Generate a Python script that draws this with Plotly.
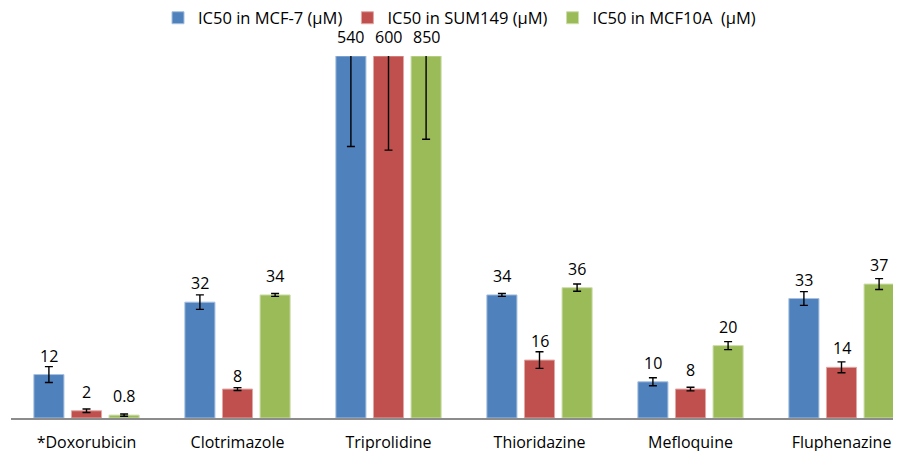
import plotly.graph_objects as go

categories = ["*Doxorubicin", "Clotrimazole", "Triprolidine", "Thioridazine", "Mefloquine", "Fluphenazine"]
series_names = ["IC50 in MCF-7 (µM)", "IC50 in SUM149 (µM)", "IC50 in MCF10A\u00a0 (µM)"]

mcf7 = [12, 32, 540, 34, 10, 33]
sum149 = [2, 8, 600, 16, 8, 14]
mcf10a = [0.8, 34, 850, 36, 20, 37]

mcf7_err = [2.2, 2.0, 25, 0.4, 1.1, 1.9]
sum149_err = [0.5, 0.4, 26, 2.3, 0.5, 1.5]
mcf10a_err = [0.3, 0.4, 23, 1.0, 1.1, 1.5]

colors = ["#4F81BD", "#C0504D", "#9BBB59"]
edge_colors = ["#A7C0DE", "#E0A8A6", "#CDDDAC"]

Y_MAX = 100  # visible axis top; taller bars are cut off here
FONT = "Open Sans"
BARGAP = 0.253
BARGROUPGAP = 0.2

# the page body adds an 8px offset; compensate so the visible area matches
OFF = 8
W, H = 901, 451

series = [mcf7, sum149, mcf10a]
errors = [mcf7_err, sum149_err, mcf10a_err]

fig = go.Figure()
for j, (name, vals, errs) in enumerate(zip(series_names, series, errors)):
    shown = [min(v, Y_MAX) for v in vals]
    fig.add_trace(go.Bar(
        name=name,
        x=categories,
        y=shown,
        marker=dict(color=colors[j], line=dict(color=edge_colors[j], width=1)),
        error_y=dict(type="data", array=errs, visible=True, color="black",
                     thickness=1.4, width=4),
    ))

slot = (1 - BARGAP) / 3
annotations = []
for j, vals in enumerate(series):
    for i, v in enumerate(vals):
        shift = 6
        if j == 1 and i == 1:
            shift = 0
        annotations.append(dict(
            x=i + (j - 1) * slot, y=min(v, Y_MAX), xref="x", yref="y",
            text=f"{v:g}", showarrow=False, yanchor="bottom", yshift=shift,
            font=dict(family=FONT, size=16, color="black"),
        ))

plot_left, plot_right, plot_top, plot_bottom = 11, 901, 56, 418
cat_px = 151
x_end = -0.5 + (plot_right - plot_left) / cat_px

fig.update_layout(
    width=W, height=H,
    margin=dict(l=plot_left - OFF, r=W - (plot_right - OFF), t=plot_top - OFF,
                b=H - (plot_bottom - OFF)),
    paper_bgcolor="white", plot_bgcolor="white",
    barmode="group", bargap=BARGAP, bargroupgap=BARGROUPGAP,
    font=dict(family=FONT, size=16, color="black"),
    showlegend=True,
    legend=dict(orientation="h", xref="container", yref="container",
                x=(158 - OFF) / W, y=1 - (18 - OFF) / H, xanchor="left", yanchor="middle",
                font=dict(family=FONT, size=16.5, color="black"),
                itemwidth=30, traceorder="normal"),
    annotations=annotations,
    xaxis=dict(range=[-0.5, x_end], showline=True, linecolor="#8C8C8C", linewidth=1.5,
               showgrid=False, ticks="", ticklabelstandoff=9,
               tickfont=dict(family=FONT, size=16, color="black")),
    yaxis=dict(range=[0, Y_MAX], visible=False, showgrid=False, zeroline=False),
)

fig.write_html("out.html")
